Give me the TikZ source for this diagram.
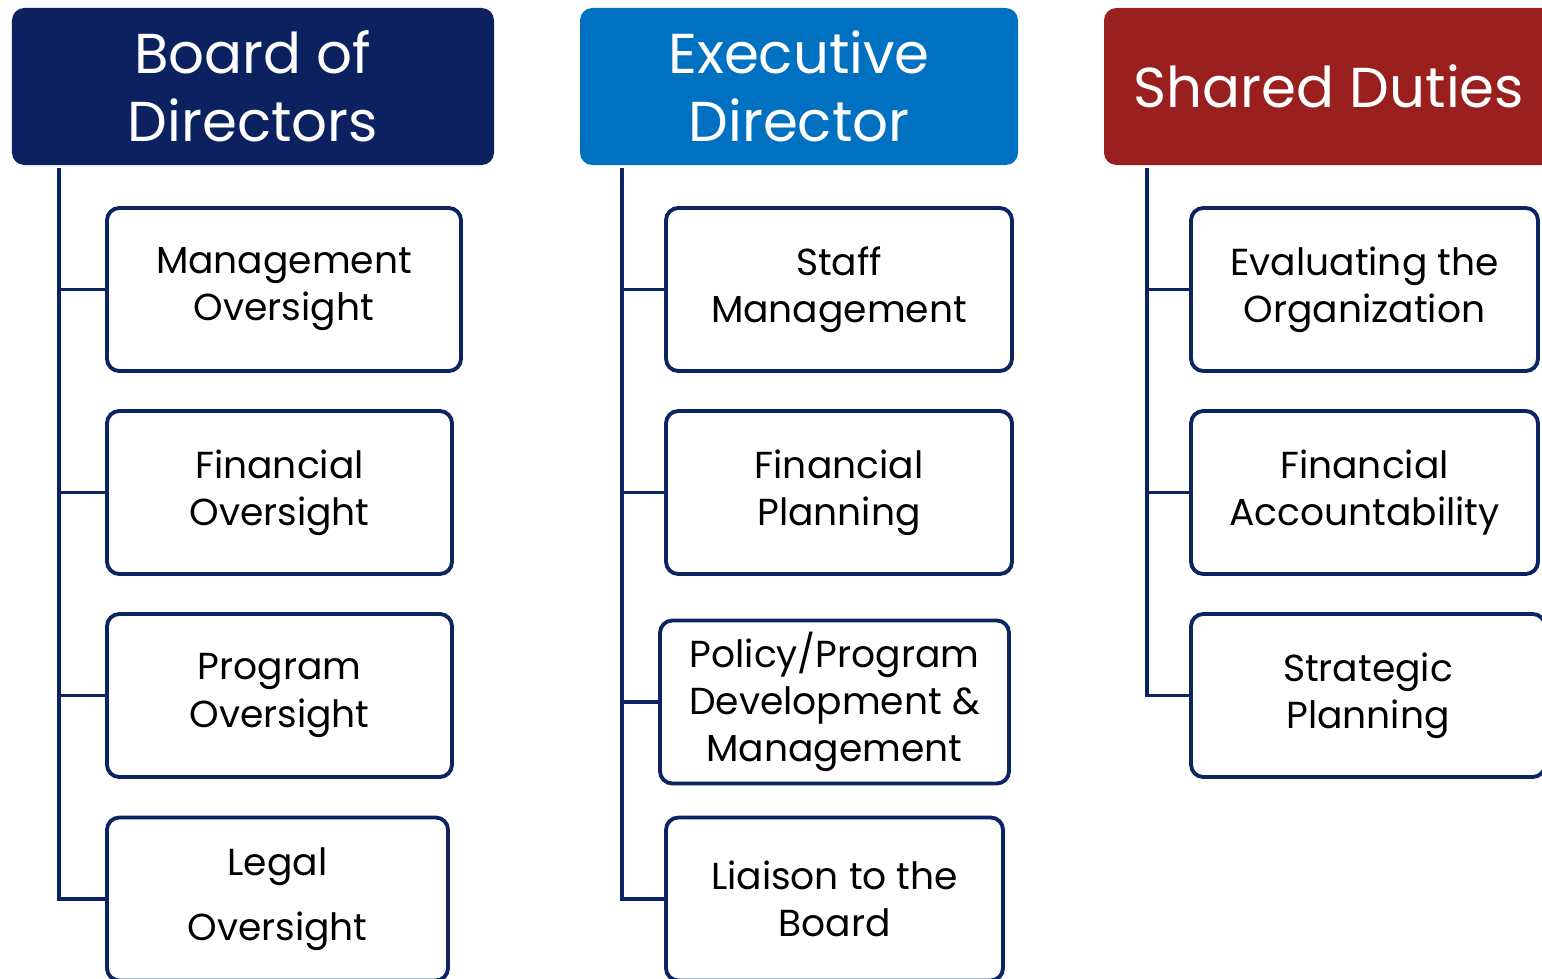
\documentclass[tikz,border=0pt]{standalone}
\usepackage{fontspec}
\setmainfont{Poppins}
\usetikzlibrary{positioning}
\definecolor{boardblue}{RGB}{12,33,96}
\definecolor{execblue}{RGB}{0,112,192}
\definecolor{sharedred}{RGB}{154,31,31}
\definecolor{linenavy}{RGB}{12,36,98}

\begin{document}
\begin{tikzpicture}[
    head/.style={rounded corners=3.5pt, text=white, align=center, minimum height=1.57cm, inner sep=0pt, font=\fontsize{16}{19.4}\selectfont},
    duty/.style={draw=linenavy, line width=1.1pt, rounded corners=3.5pt, fill=white, align=center, minimum height=1.63cm, inner sep=0pt, font=\fontsize{10.7}{13.4}\selectfont},
    trunk/.style={draw=linenavy, line width=1.1pt}]
    \useasboundingbox (0,0) rectangle (15.42,-9.79);

    % Headers
    \node[head, fill=boardblue, minimum width=4.82cm] (bod) at (2.53,-0.865) {Board of\\Directors};
    \node[head, fill=execblue, minimum width=4.38cm] (ed) at (7.99,-0.865) {Executive\\Director};
    \node[head, fill=sharedred, minimum width=4.5cm] (sd) at (13.29,-0.865) {Shared Duties};

    % Board of Directors column
    \node[duty, minimum width=3.54cm] (mo) at (2.84,-2.895) {Management\\Oversight};
    \node[duty, minimum width=3.45cm] (fo) at (2.795,-4.925) {Financial\\Oversight};
    \node[duty, minimum width=3.45cm] (po) at (2.795,-6.955) {Program\\Oversight};
    \node[duty, minimum width=3.41cm, font=\fontsize{10.7}{18.5}\selectfont] (lo) at (2.775,-8.99) {Legal\\Oversight};
    \coordinate (bt) at (0.59,-1.68);
    \draw[trunk] (bt) |- (lo.west);
    \foreach \n in {mo,fo,po}
        \draw[trunk] (bt |- \n.west) -- (\n.west);

    % Executive Director column
    \node[duty, minimum width=3.46cm] (sm) at (8.39,-2.895) {Staff\\Management};
    \node[duty, minimum width=3.46cm] (fp) at (8.39,-4.925) {Financial\\Planning};
    \node[duty, minimum width=3.49cm] (pp) at (8.345,-7.02) {Policy/Program\\Development \&\\Management};
    \node[duty, minimum width=3.37cm] (lb) at (8.345,-8.99) {Liaison to the\\Board};
    \coordinate (et) at (6.22,-1.68);
    \draw[trunk] (et) |- (lb.west);
    \foreach \n in {sm,fp,pp}
        \draw[trunk] (et |- \n.west) -- (\n.west);

    % Shared Duties column
    \node[duty, minimum width=3.47cm] (eo) at (13.645,-2.895) {Evaluating the\\Organization};
    \node[duty, minimum width=3.47cm] (fa) at (13.645,-4.925) {Financial\\Accountability};
    \node[duty, minimum width=3.54cm] (sp) at (13.68,-6.955) {Strategic\\Planning};
    \coordinate (st) at (11.47,-1.68);
    \draw[trunk] (st) |- (sp.west);
    \foreach \n in {eo,fa}
        \draw[trunk] (st |- \n.west) -- (\n.west);
\end{tikzpicture}
\end{document}
